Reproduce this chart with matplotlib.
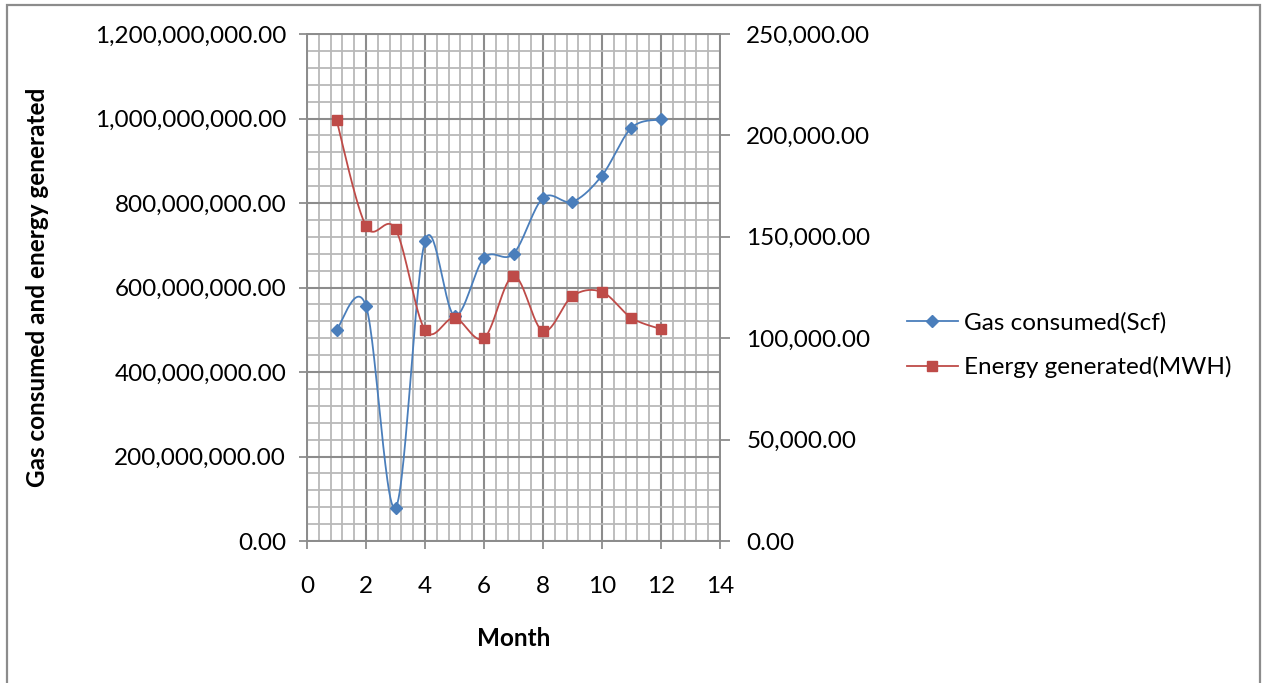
import numpy as np
import matplotlib
matplotlib.use("Agg")
import matplotlib.pyplot as plt
from matplotlib.ticker import MultipleLocator, FuncFormatter
from matplotlib.patches import Rectangle

plt.rcParams['font.family'] = ['Lato', 'DejaVu Sans']

months = [1, 2, 3, 4, 5, 6, 7, 8, 9, 10, 11, 12]
gas_scf = [500e6, 556e6, 78e6, 710e6, 533e6, 670e6, 680e6, 812e6, 803e6, 865e6, 978e6, 998e6]
energy_mwh = [207600, 155300, 153800, 104000, 110000, 100000, 130700, 103500, 120800, 122800, 110000, 104500]

blue = '#4a7ebb'
red = '#be4b48'
major_c = '#8c8c8c'
minor_c = '#b9b9b9'


def smooth(x, y, n=30):
    # bezier smoothing through every point, control points from neighbours
    x = np.asarray(x, float)
    y = np.asarray(y, float)
    px = np.concatenate([[x[0]], x, [x[-1]]])
    py = np.concatenate([[y[0]], y, [y[-1]]])
    xs, ys = [], []
    t = np.linspace(0, 1, n)
    for i in range(1, len(px) - 2):
        p0 = np.array([px[i], py[i]])
        p3 = np.array([px[i + 1], py[i + 1]])
        p1 = p0 + (np.array([px[i + 1], py[i + 1]]) - np.array([px[i - 1], py[i - 1]])) / 6
        p2 = p3 - (np.array([px[i + 2], py[i + 2]]) - np.array([px[i], py[i]])) / 6
        b = ((1 - t) ** 3)[:, None] * p0 + (3 * (1 - t) ** 2 * t)[:, None] * p1 \
            + (3 * (1 - t) * t ** 2)[:, None] * p2 + (t ** 3)[:, None] * p3
        xs.extend(b[:, 0])
        ys.extend(b[:, 1])
    return np.array(xs), np.array(ys)


fig = plt.figure(figsize=(12.64, 6.83), dpi=100)
fig.patches.append(Rectangle((0.0055, -0.01), 0.9915, 1.002, transform=fig.transFigure,
                             fill=False, edgecolor='#8c8c8c', linewidth=1.6))

ax = fig.add_axes([0.2429, 0.2079, 0.3267, 0.7423])
ax2 = ax.twinx()

fmt = FuncFormatter(lambda v, p: f"{v:,.2f}")
fs = 17.5

ax.set_xlim(0, 14)
ax.set_ylim(0, 1.2e9)
ax.xaxis.set_major_locator(MultipleLocator(2))
ax.xaxis.set_minor_locator(MultipleLocator(0.4))
ax.yaxis.set_major_locator(MultipleLocator(200e6))
ax.yaxis.set_minor_locator(MultipleLocator(40e6))
ax.yaxis.set_major_formatter(fmt)
ax.grid(which='major', color=major_c, linewidth=1.5)
ax.grid(which='minor', color=minor_c, linewidth=1.3)
ax.set_axisbelow(True)
ax.tick_params(which='major', length=6, width=1.3, color=major_c, labelsize=fs, pad=9)
ax.tick_params(which='minor', length=0)
ax.tick_params(axis='x', pad=19)
for s in ax.spines.values():
    s.set_color(major_c)
    s.set_linewidth(1.3)

ax2.set_ylim(0, 250000)
ax2.yaxis.set_major_locator(MultipleLocator(50000))
ax2.yaxis.set_major_formatter(fmt)
ax2.tick_params(length=7, width=1.3, color=major_c, labelsize=fs, pad=12)
for s in ax2.spines.values():
    s.set_color(major_c)
    s.set_linewidth(1.3)

gx, gy = smooth(months, gas_scf)
ex, ey = smooth(months, energy_mwh)
ax.plot(gx, gy, color=blue, linewidth=1.3, zorder=3)
ax.plot(months, gas_scf, linestyle='none', marker='D', markersize=6.5, color=blue, zorder=4)
ax2.plot(ex, ey, color=red, linewidth=1.3, zorder=3)
ax2.plot(months, energy_mwh, linestyle='none', marker='s', markersize=7.5, color=red, zorder=4)

ax.set_xlabel('Month', fontsize=fs, fontweight='bold', labelpad=22)
ax.set_ylabel('Gas consumed and energy generated', fontsize=fs, fontweight='bold', labelpad=33)

# legend entries
h1, = ax.plot([], [], color=blue, linewidth=1.3, marker='D', markersize=6)
h2, = ax.plot([], [], color=red, linewidth=1.3, marker='s', markersize=7)
fig.legend([h1, h2], ['Gas consumed(Scf)', 'Energy generated(MWH)'], loc='center left',
           bbox_to_anchor=(0.700, 0.495), frameon=False, fontsize=fs, handlelength=2.1,
           handletextpad=0.25, labelspacing=0.95)

fig.savefig('out.png', dpi=100)
